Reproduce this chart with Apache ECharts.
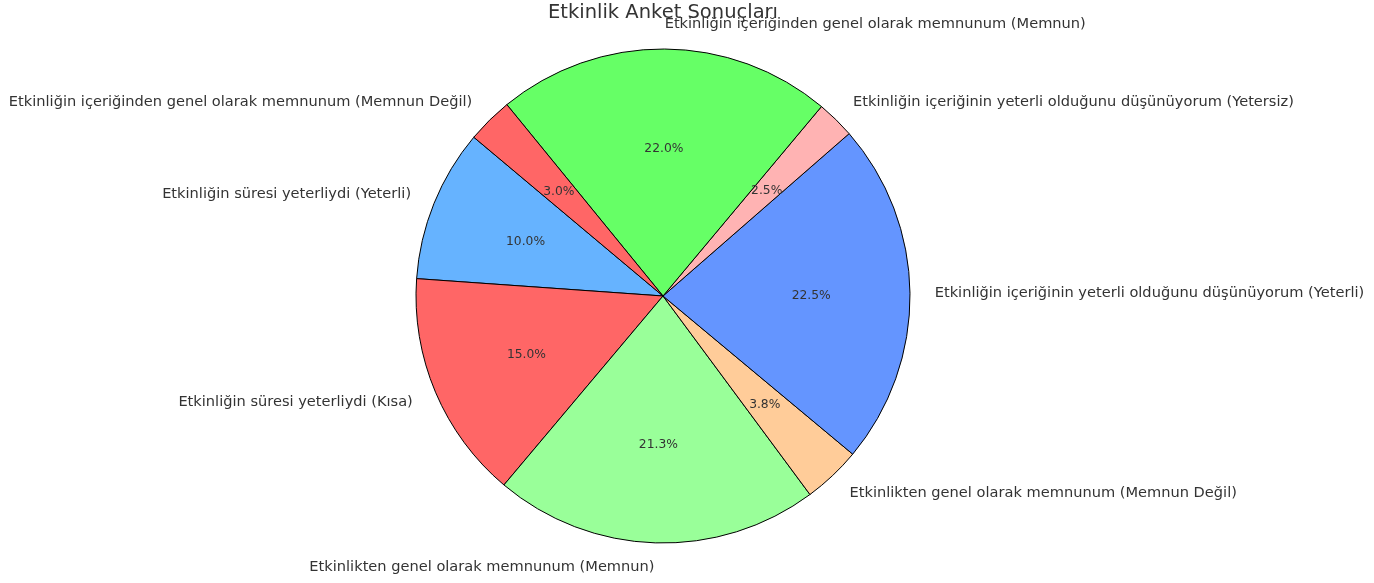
<!DOCTYPE html>
<html><head><meta charset="utf-8">
<script src="https://cdn.jsdelivr.net/npm/echarts@6/dist/echarts.min.js"></script>
<style>html,body{margin:0;padding:0;background:#fff}#c{width:1374px;height:583px}</style>
</head><body><div id="c"></div>
<script>
const categories = [
  "Etkinliğin süresi yeterliydi (Yeterli)",
  "Etkinliğin süresi yeterliydi (Kısa)",
  "Etkinlikten genel olarak memnunum (Memnun)",
  "Etkinlikten genel olarak memnunum (Memnun Değil)",
  "Etkinliğin içeriğinin yeterli olduğunu düşünüyorum (Yeterli)",
  "Etkinliğin içeriğinin yeterli olduğunu düşünüyorum (Yetersiz)",
  "Etkinliğin içeriğinden genel olarak memnunum (Memnun)",
  "Etkinliğin içeriğinden genel olarak memnunum (Memnun Değil)"
];
const values = [10.0, 15.0, 21.3, 3.8, 22.5, 2.5, 22.0, 3.0];
const colors = ["#66b3ff", "#ff6666", "#99ff99", "#ffcc99", "#6495ff", "#ffb3b3", "#66ff66", "#ff6666"];
const title = "Etkinlik Anket Sonuçları";

const R = 247;
const cx = 663, cy = 296;
const total = values.reduce((a, b) => a + b, 0);
const FONT = "DejaVu Sans";

const mainData = categories.map((n, i) => ({ name: n, value: values[i], itemStyle: { color: colors[i] } }));
const pctData = categories.map((n, i) => ({ name: n, value: values[i] }));

const chart = echarts.init(document.getElementById('c'), null, { renderer: 'canvas' });
chart.setOption({
  animation: false,
  backgroundColor: '#ffffff',
  graphic: [{
    type: 'text', x: cx, y: 13, z: 10,
    style: {
      text: title, align: 'center', verticalAlign: 'middle',
      font: 'normal 19.5px "DejaVu Sans"', fill: '#333333'
    },
    silent: true
  }],
  series: [
    {
      type: 'pie',
      center: [cx, cy],
      radius: [0, R],
      startAngle: 140,
      clockwise: false,
      avoidLabelOverlap: false,
      silent: true,
      data: mainData,
      itemStyle: { borderColor: '#000', borderWidth: 1 },
      label: {
        show: true, position: 'outside', formatter: '{b}',
        fontFamily: FONT, fontSize: 14.6, color: '#333333',
        distanceToLabelLine: 0
      },
      labelLine: { show: false, length: R * 0.1, length2: 0 },
      emphasis: { disabled: true }
    },
    {
      type: 'pie',
      center: [cx, cy + 1],
      radius: [0, R * 1.176],
      startAngle: 140,
      clockwise: false,
      avoidLabelOverlap: false,
      silent: true,
      data: pctData,
      itemStyle: { color: 'rgba(0,0,0,0)', borderWidth: 0 },
      label: {
        show: true, position: 'inside',
        formatter: p => (p.value / total * 100).toFixed(1) + '%',
        fontFamily: FONT, fontSize: 12.3, color: '#333333'
      },
      labelLine: { show: false },
      emphasis: { disabled: true }
    }
  ]
});
</script></body></html>
